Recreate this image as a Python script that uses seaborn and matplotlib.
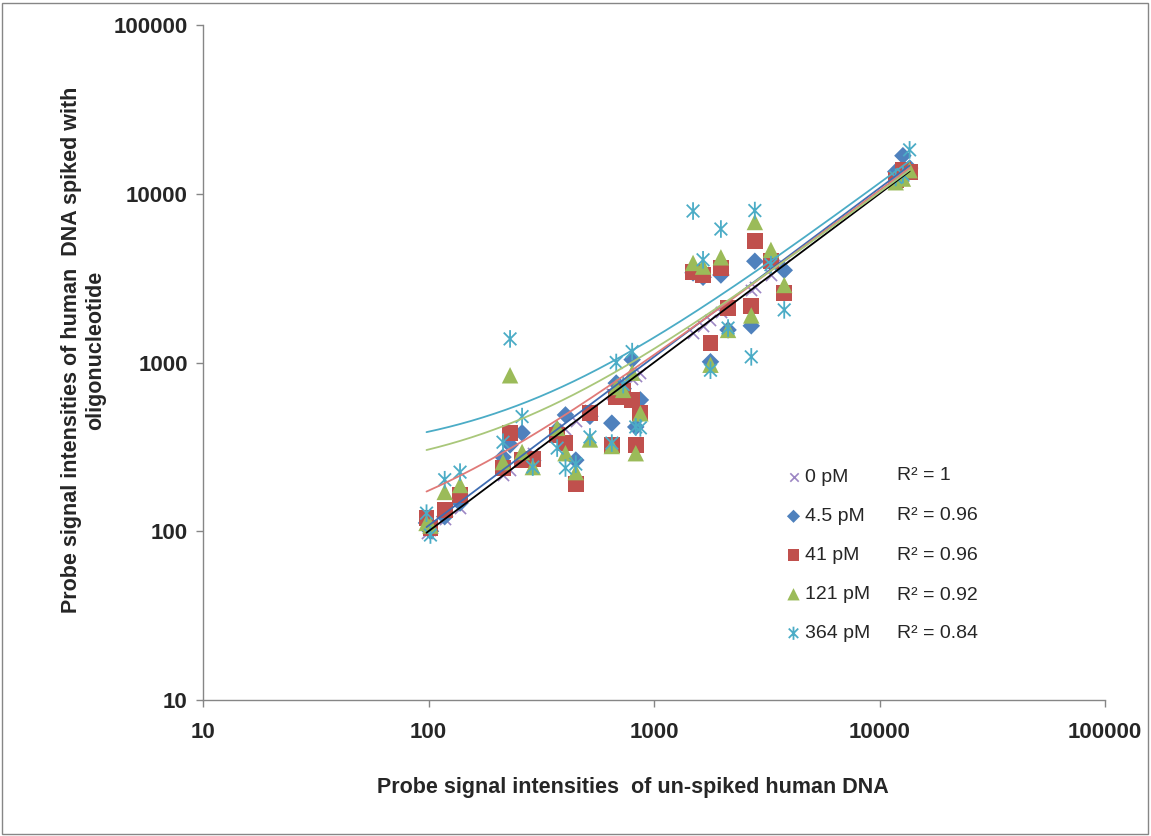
import numpy as np
import pandas as pd
import matplotlib
matplotlib.use("Agg")
import matplotlib.pyplot as plt
from matplotlib.path import Path
from matplotlib.patches import Rectangle
import seaborn as sns

# ---------------- data ----------------
series_names = ["0 pM", "4.5 pM", "41 pM", "121 pM", "364 pM"]
r2_labels = ["R\u00b2 = 1", "R\u00b2 = 0.96", "R\u00b2 = 0.96", "R\u00b2 = 0.92", "R\u00b2 = 0.84"]

unspiked = [98, 102, 118, 138, 214, 230, 260, 290, 372, 405, 450, 520,
            650, 680, 730, 800, 830, 870,
            1490, 1650, 1780, 1980, 2130, 2700, 2800, 3300, 3780,
            11800, 12700, 13600]

spiked_0 = [98, 102, 118, 138, 214, 230, 260, 290, 372, 405, 450, 520,
            650, 680, 730, 800, 830, 870,
            1490, 1650, 1780, 1980, 2130, 2700, 2800, 3300, 3780,
            11800, 12700, 13600]
spiked_4_5 = [112, 100, 122, 147, 275, 325, 383, 262, 400, 489, 264, 480,
              437, 755, 700, 1040, 415, 600,
              3400, 3200, 1010, 3300, 1560, 1650, 3980, 3900, 3520,
              13500, 16800, 14200]
spiked_41 = [120, 104, 134, 164, 237, 383, 264, 268, 372, 333, 190, 500,
             325, 624, 680, 600, 325, 500,
             3435, 3300, 1310, 3630, 2100, 2150, 5260, 3980, 2590,
             12000, 13800, 13400]
spiked_121 = [112, 108, 171, 188, 257, 840, 295, 240, 410, 290, 224, 350,
              320, 716, 688, 870, 290, 500,
              3890, 3700, 970, 4200, 1560, 1900, 6800, 4650, 2880,
              11700, 12300, 13800]
spiked_364 = [128, 95, 202, 224, 337, 1380, 478, 240, 311, 237, 250, 362,
              333, 1000, 740, 1160, 415, 410,
              7900, 4060, 900, 6180, 1600, 1080, 7950, 3800, 2050,
              12500, 13000, 18200]

spiked = [spiked_0, spiked_4_5, spiked_41, spiked_121, spiked_364]

# linear trendlines y = slope * x + intercept
trend_slope = [1.0, 1.08, 1.04, 1.0, 1.13]
trend_intercept = [0.0, 0.0, 70.0, 205.0, 276.0]

# ---------------- styles ----------------
star = Path([(0, -1), (0, 1), (-0.72, -0.72), (0.72, 0.72), (-0.72, 0.72), (0.72, -0.72)],
            [Path.MOVETO, Path.LINETO, Path.MOVETO, Path.LINETO, Path.MOVETO, Path.LINETO])
marker_colors = ["#9C86C4", "#4F81BD", "#C0504D", "#9BBB59", "#4BACC6"]
line_colors = ["#000000", "#3F6DB3", "#E07A78", "#A9C77A", "#4BACC6"]
markers = ["x", "D", "s", "^", star]
sizes = [65, 80, 130, 140, 160]
filled = [False, True, True, True, False]

sns.set_theme(style="white")
plt.rcParams["font.family"] = ["Liberation Sans", "DejaVu Sans"]

fig = plt.figure(figsize=(11.51, 8.36), dpi=100)
ax = fig.add_axes([203 / 1151, 1 - 700 / 836, 902 / 1151, 675 / 836])

for i, (name, ys) in enumerate(zip(series_names, spiked)):
    df = pd.DataFrame({"x": unspiked, "y": ys})
    if i == 0:
        sns.scatterplot(data=df, x="x", y="y", ax=ax, marker=markers[i], s=sizes[i],
                        color=marker_colors[i], linewidth=1.2, label=name, zorder=3)
    elif filled[i]:
        sns.scatterplot(data=df, x="x", y="y", ax=ax, marker=markers[i], s=sizes[i],
                        color=marker_colors[i], edgecolor="none", linewidth=0,
                        label=name, zorder=3 + i * 0.1)
    else:
        sns.scatterplot(data=df, x="x", y="y", ax=ax, marker=markers[i], s=sizes[i],
                        color=marker_colors[i], edgecolor=marker_colors[i], facecolor="none",
                        linewidth=1.3, label=name, zorder=3 + i * 0.1)

# trend lines over the x range of the data
for i in range(len(series_names)):
    x = np.array(unspiked, float)
    xs = np.geomspace(x.min(), x.max(), 300)
    tdf = pd.DataFrame({"x": xs, "y": trend_slope[i] * xs + trend_intercept[i]})
    sns.lineplot(data=tdf, x="x", y="y", ax=ax, color=line_colors[i], lw=1.3,
                 legend=False, zorder=6, label="_nolegend_")

ax.set_xscale("log")
ax.set_yscale("log")
ax.set_xlim(10, 100000)
ax.set_ylim(10, 100000)
ticks = [10, 100, 1000, 10000, 100000]
ax.set_xticks(ticks)
ax.set_yticks(ticks)
ax.set_xticklabels([str(t) for t in ticks])
ax.set_yticklabels([str(t) for t in ticks])
ax.minorticks_off()
for lab in ax.get_xticklabels() + ax.get_yticklabels():
    lab.set_fontweight("bold")
    lab.set_fontsize(16)
ax.tick_params(axis="both", which="major", direction="out", length=5, width=1,
               color="#868686", bottom=True, left=True)
ax.tick_params(axis="x", pad=11)
ax.tick_params(axis="y", pad=6)

for s in ["top", "right"]:
    ax.spines[s].set_visible(False)
for s in ["left", "bottom"]:
    ax.spines[s].set_color("#868686")
    ax.spines[s].set_linewidth(1)

ax.set_xlabel("Probe signal intensities  of un-spiked human DNA", fontsize=15.5, fontweight="bold")
ax.set_ylabel("Probe signal intensities of human  DNA spiked with\noligonucleotide",
              fontsize=15.5, fontweight="bold", linespacing=1.2)
ax.xaxis.set_label_coords((633 - 203) / 902, -(787 - 700) / 675)
ax.yaxis.set_label_coords((84 - 203) / 902, (700 - 350) / 675)
ax.xaxis.label.set_va("center")
ax.yaxis.label.set_va("center")

leg = ax.legend(loc="upper left", bbox_to_anchor=((776 - 203) / 902, (700 - 461) / 675),
                frameon=False, fontsize=14, handletextpad=0.1, handlelength=1.0,
                labelspacing=1.1, borderaxespad=0, markerscale=0.75)

row_y = [476, 515, 555, 596, 633]
for txt, yy in zip(r2_labels, row_y):
    fig.text(897 / 1151, 1 - yy / 836, txt, fontsize=14, va="center", ha="left")

fig.patches.append(Rectangle((0.002, 0.002), 0.995, 0.995, transform=fig.transFigure,
                             fill=False, edgecolor="#868686", linewidth=1))

fig.savefig("out.png", dpi=100)
